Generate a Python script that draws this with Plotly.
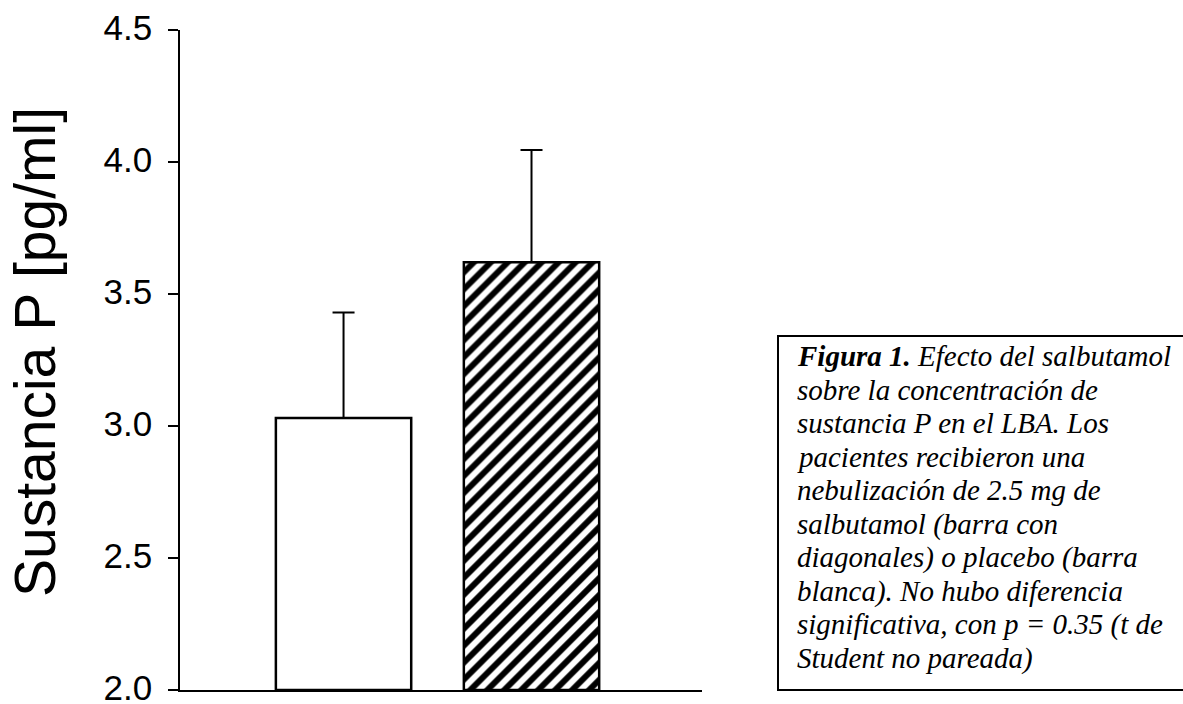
import plotly.graph_objects as go

# Data
categories = ["Placebo", "Salbutamol"]
means = [3.03, 3.62]
errors_plus = [0.40, 0.425]
patterns = ["", "/"]
tick_values = [2.0, 2.5, 3.0, 3.5, 4.0, 4.5]
y_title = "Sustancia P [pg/ml]"
caption_lines = [
    "<b>Figura 1.</b> Efecto del salbutamol",
    "sobre la concentración de",
    "sustancia P en el LBA. Los",
    "pacientes recibieron una",
    "nebulización de 2.5 mg de",
    "salbutamol (barra con",
    "diagonales) o placebo (barra",
    "blanca). No hubo diferencia",
    "significativa, con p = 0.35 (t de",
    "Student no pareada)",
]

W, H = 1183, 704
L, R_EDGE, T, B_EDGE = 180, 702, 30, 690
PW, PH = R_EDGE - L, B_EDGE - T

def px_x(p):
    return (p - L) / PW

def px_y(p):
    return (B_EDGE - p) / PH

fig = go.Figure()
for cat, m, e, pat in zip(categories, means, errors_plus, patterns):
    fig.add_trace(go.Bar(
        x=[cat],
        y=[m - 2.0],
        base=2.0,
        width=0.72,
        marker=dict(
            color="white",
            line=dict(color="black", width=2.5),
            pattern=dict(shape=pat, size=12, solidity=0.5, fillmode="replace",
                         fgcolor="black", bgcolor="white", fgopacity=1),
        ),
        error_y=dict(type="data", symmetric=False, array=[e],
                     arrayminus=[0], color="black", thickness=2, width=11),
        showlegend=False,
    ))

fig.update_layout(
    width=W, height=H,
    autosize=False,
    barmode="overlay",
    margin=dict(l=L, r=W - R_EDGE, t=T, b=H - B_EDGE, pad=0, autoexpand=False),
    paper_bgcolor="white", plot_bgcolor="white",
    xaxis=dict(type="category", categoryorder="array", categoryarray=categories,
               range=[-0.87, 1.907], showticklabels=False, ticks="",
               showgrid=False, zeroline=False, showline=True, automargin=False,
               linecolor="black", linewidth=2),
    yaxis=dict(range=[1.9999, 4.5], tickvals=tick_values, tickformat=".1f",
               ticks="outside", ticklen=10, tickwidth=1.5, tickcolor="black",
               showgrid=False, zeroline=False, showline=True, automargin=False,
               linecolor="black", linewidth=1.5,
               tickfont=dict(family="Liberation Sans, Arial", size=35, color="black"),
               ticklabelstandoff=9, ticklabelshift=-2, ticklabeloverflow="allow"),
)

# y-axis title as a rotated annotation
fig.add_annotation(
    text=y_title, textangle=-90, showarrow=False,
    xref="paper", yref="paper", x=px_x(35), y=px_y(352),
    xanchor="center", yanchor="middle",
    font=dict(family="Liberation Sans, Arial", size=57, color="black"),
)

# caption box
fig.add_shape(type="rect", xref="paper", yref="paper",
              x0=px_x(778), x1=px_x(1195), y0=px_y(690), y1=px_y(336),
              line=dict(color="black", width=2), fillcolor="rgba(0,0,0,0)")

baseline0 = 365
spacing = 33.6
for i, line in enumerate(caption_lines):
    fig.add_annotation(
        text="<i>" + line + "</i>", showarrow=False,
        xref="paper", yref="paper",
        x=px_x(795), y=px_y(baseline0 + i * spacing - 9),
        xanchor="left", yanchor="middle",
        font=dict(family="Liberation Serif, Times New Roman", size=29, color="black"),
    )

fig.write_html(
    "out.html",
    config={"displayModeBar": False},
    post_script="document.body.style.margin='0';document.body.style.overflow='hidden';",
)
